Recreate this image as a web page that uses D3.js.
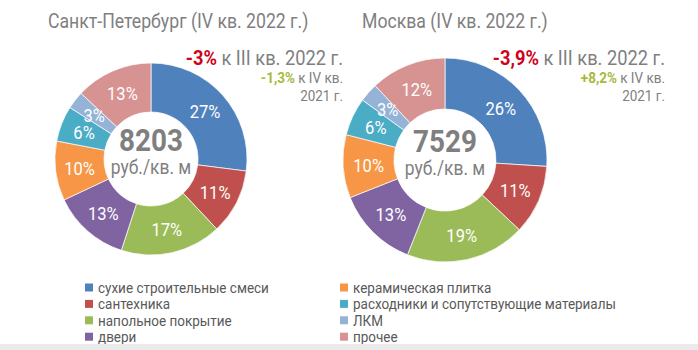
<!DOCTYPE html>
<html lang="ru">
<head>
    <meta charset="UTF-8">
    <title>Структура затрат на ремонт</title>
    <script src="https://d3js.org/d3.v7.min.js"></script>
    <style>
        body { margin: 0; background: #fff; font-family: Roboto, "Noto Sans", sans-serif; }
        text { font-family: Roboto, "Noto Sans", sans-serif; }
        .lbl { fill: #fff; font-size: 19px; text-anchor: middle; }
        .grey { fill: #7f7f7f; }
        .legend text { fill: #595959; font-size: 15.5px; }
    </style>
</head>
<body>
<svg width="698" height="350"></svg>
<script>
    // categories and shares (%)
    var categories = ["сухие строительные смеси", "сантехника", "напольное покрытие", "двери",
                      "керамическая плитка", "расходники и сопутствующие материалы", "ЛКМ", "прочее"];
    var colors = ["#4f81bd", "#c0504d", "#9bbb59", "#8064a2", "#f79646", "#4bacc6", "#95b3d7", "#d69391"];
    var spbValues = [27, 11, 17, 13, 10, 6, 3, 13];
    var mskValues = [26, 11, 19, 13, 10, 6, 3, 12];

    var cities = [
        {title: "Санкт-Петербург (IV кв. 2022 г.)", values: spbValues, price: "8203",
         q: "-3%", y: "-1,3%", cx: 151, cy: 159, r: 96, ri: 47, tx: 48, ax: 343},
        {title: "Москва (IV кв. 2022 г.)", values: mskValues, price: "7529",
         q: "-3,9%", y: "+8,2%", cx: 445, cy: 160, r: 102, ri: 51, tx: 362, ax: 665}
    ];

    var sx = 0.87; // condensed look
    var svg = d3.select("svg");

    function txt(g, x, y, cls) {
        return g.append("text")
            .attr("class", cls || null)
            .attr("transform", "translate(" + x + "," + y + ") scale(" + sx + ",1)");
    }

    var pie = d3.pie().sort(null).value(function(d) { return d; });

    cities.forEach(function(c) {
        var g = svg.append("g");

        txt(g, c.tx, 28, "grey").style("font-size", "20.3px").text(c.title);

        var arc = d3.arc().innerRadius(c.ri).outerRadius(c.r);
        var labelArc = d3.arc().innerRadius(72 * c.r / 96).outerRadius(72 * c.r / 96);

        var donut = g.append("g").attr("transform", "translate(" + c.cx + "," + c.cy + ")");
        var arcs = pie(c.values);

        donut.selectAll("path")
            .data(arcs)
          .enter().append("path")
            .attr("d", arc)
            .attr("fill", function(d, i) { return colors[i]; })
            .attr("stroke", "#fff")
            .attr("stroke-width", 0.7);

        donut.selectAll("text.lbl")
            .data(arcs)
          .enter().append("text")
            .attr("class", "lbl")
            .attr("transform", function(d) {
                var p = labelArc.centroid(d);
                return "translate(" + p[0] + "," + (p[1] + 7) + ") scale(" + sx + ",1)";
            })
            .text(function(d) { return d.data + "%"; });

        // centre
        txt(donut, 0, -8.5, "grey").style("font-size", "32px").style("font-weight", "bold")
            .attr("text-anchor", "middle").text(c.price);
        txt(donut, 0, 14.5, "grey").style("font-size", "20px")
            .attr("text-anchor", "middle").text("руб./кв. м");

        // change notes
        var t1 = txt(g, c.ax, 65, "grey").attr("text-anchor", "end").style("font-size", "21px");
        t1.append("tspan").style("fill", "#d0021b").style("font-weight", "bold").text(c.q);
        t1.append("tspan").text(" к III кв. 2022 г.");
        var t2 = txt(g, c.ax, 82.5, "grey").attr("text-anchor", "end").style("font-size", "15.5px");
        t2.append("tspan").style("fill", "#a8b83c").style("font-weight", "bold").text(c.y);
        t2.append("tspan").text(" к IV кв.");
        txt(g, c.ax, 101, "grey").attr("text-anchor", "end").style("font-size", "15.5px").text("2021 г.");
    });

    // legend
    var legend = svg.append("g").attr("class", "legend");
    var items = legend.selectAll("g")
        .data(categories)
      .enter().append("g")
        .attr("transform", function(d, i) {
            var col = Math.floor(i / 4), row = i % 4;
            return "translate(" + (85 + col * 255) + "," + (293 + row * 16.4) + ")";
        });
    items.append("rect")
        .attr("x", 0).attr("y", -9.5).attr("width", 8).attr("height", 8)
        .attr("fill", function(d, i) { return colors[i]; });
    items.append("text")
        .attr("transform", "translate(13,0) scale(" + sx + ",1)")
        .text(function(d) { return d; });

    svg.append("rect").attr("x", 0).attr("y", 344).attr("width", 698).attr("height", 6).attr("fill", "#ebebeb");
</script>
</body>
</html>
